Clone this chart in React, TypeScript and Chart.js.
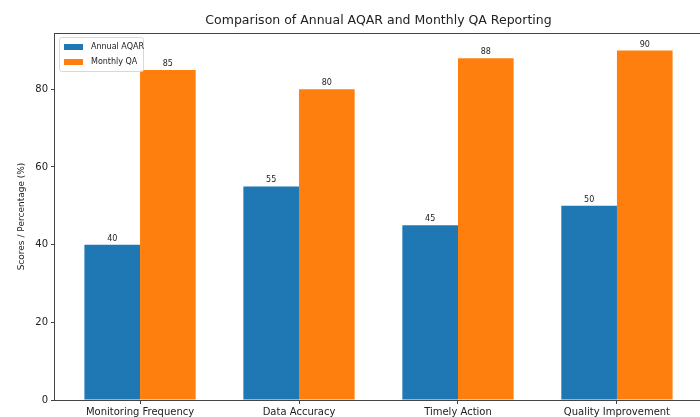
import React, { useEffect, useRef } from "react";
import { Chart, registerables } from "chart.js";

Chart.register(...registerables);

const categories = ["Monitoring Frequency", "Data Accuracy", "Timely Action", "Quality Improvement"];
const annualAQAR = [40, 55, 45, 50];
const monthlyQA = [85, 80, 88, 90];
const yTicks = [0, 20, 40, 60, 80];
const titleText = "Comparison of Annual AQAR and Monthly QA Reporting";
const yTitle = "Scores / Percentage (%)";
const seriesNames = ["Annual AQAR", "Monthly QA"];
const colors = ["#1f77b4", "#ff7f0e"];

const FONT = "'DejaVu Sans', sans-serif";

const decorPlugin = {
  id: "decor",
  afterDraw(chart: any) {
    const ctx = chart.ctx;
    const a = chart.chartArea;
    ctx.save();
    // frame
    ctx.strokeStyle = "#444";
    ctx.lineWidth = 1;
    ctx.strokeRect(a.left - 0.5, a.top + 0.5, a.right - a.left, a.bottom - a.top);
    // title
    ctx.fillStyle = "#222";
    ctx.font = `12.5px ${FONT}`;
    ctx.textAlign = "center";
    ctx.textBaseline = "alphabetic";
    ctx.fillText(titleText, (a.left + a.right) / 2, a.top - 9);
    // y title
    ctx.save();
    ctx.translate(22, (a.top + a.bottom) / 2);
    ctx.rotate(-Math.PI / 2);
    ctx.font = `9px ${FONT}`;
    ctx.textBaseline = "middle";
    ctx.fillText(yTitle, 0, 0);
    ctx.restore();
    // value labels
    ctx.font = `8px ${FONT}`;
    ctx.textAlign = "center";
    ctx.textBaseline = "bottom";
    chart.data.datasets.forEach((ds: any, i: number) => {
      const meta = chart.getDatasetMeta(i);
      meta.data.forEach((el: any, j: number) => {
        ctx.fillText(String(ds.data[j].y), el.x, el.y - 2);
      });
    });
    // legend
    const lx = a.left + 4, ly = a.top + 4, lw = 84, lh = 34;
    ctx.fillStyle = "rgba(255,255,255,0.8)";
    ctx.strokeStyle = "#d8d8d8";
    ctx.lineWidth = 1;
    ctx.beginPath();
    (ctx as any).roundRect(lx + 0.5, ly + 0.5, lw, lh, 2);
    ctx.fill();
    ctx.stroke();
    ctx.textAlign = "left";
    ctx.textBaseline = "middle";
    ctx.font = `8px ${FONT}`;
    seriesNames.forEach((n, i) => {
      const cy = ly + 10 + i * 15;
      ctx.fillStyle = colors[i];
      ctx.fillRect(lx + 5, cy - 3, 19, 6);
      ctx.fillStyle = "#222";
      ctx.fillText(n, lx + 32, cy);
    });
    ctx.restore();
  },
};

export default function App() {
  const ref = useRef<HTMLCanvasElement>(null);
  useEffect(() => {
    const chart = new Chart(ref.current!, {
      type: "bar",
      data: {
        datasets: [
          {
            label: seriesNames[0],
            data: annualAQAR.map((v, i) => ({ x: i, y: v })),
            backgroundColor: colors[0],
            categoryPercentage: 0.7,
            barPercentage: 1.0,
          },
          {
            label: seriesNames[1],
            data: monthlyQA.map((v, i) => ({ x: i, y: v })),
            backgroundColor: colors[1],
            categoryPercentage: 0.7,
            barPercentage: 1.0,
          },
        ] as any,
      },
      options: {
        animation: false,
        responsive: false,
        maintainAspectRatio: false,
        layout: { padding: { top: 33, right: 18, bottom: 0, left: 0 } },
        plugins: { legend: { display: false }, title: { display: false }, tooltip: { enabled: false } },
        scales: {
          x: {
            type: "linear",
            min: -0.535,
            max: 3.535,
            offset: false,
            afterBuildTicks: (s: any) => {
              s.ticks = categories.map((_, i) => ({ value: i }));
            },
            afterFit: (s: any) => {
              s.height = 40;
            },
            ticks: {
              autoSkip: false,
              maxRotation: 0,
              color: "#222",
              font: { family: FONT, size: 10 },
              padding: 2,
              callback: (v: any) => categories[v as number] ?? "",
            },
            grid: { display: true, offset: false, drawOnChartArea: false, drawTicks: true, tickLength: 4, color: "#444" },
            border: { display: false },
          },
          y: {
            min: 0,
            max: 94.5,
            afterBuildTicks: (s: any) => {
              s.ticks = yTicks.map((v) => ({ value: v }));
            },
            afterFit: (s: any) => {
              s.width = 55;
            },
            ticks: {
              color: "#222",
              font: { family: FONT, size: 10 },
              padding: 3,
            },
            grid: { display: true, offset: false, drawOnChartArea: false, drawTicks: true, tickLength: 4, color: "#444" },
            border: { display: false },
          },
        },
      } as any,
      plugins: [decorPlugin],
    });
    return () => chart.destroy();
  }, []);
  return (
    <div style={{ position: "fixed", left: 0, top: 0, width: 700, height: 417, overflow: "hidden", background: "#fff" }}>
      <canvas ref={ref} width={720} height={440} style={{ width: 720, height: 440, display: "block" }} />
    </div>
  );
}
